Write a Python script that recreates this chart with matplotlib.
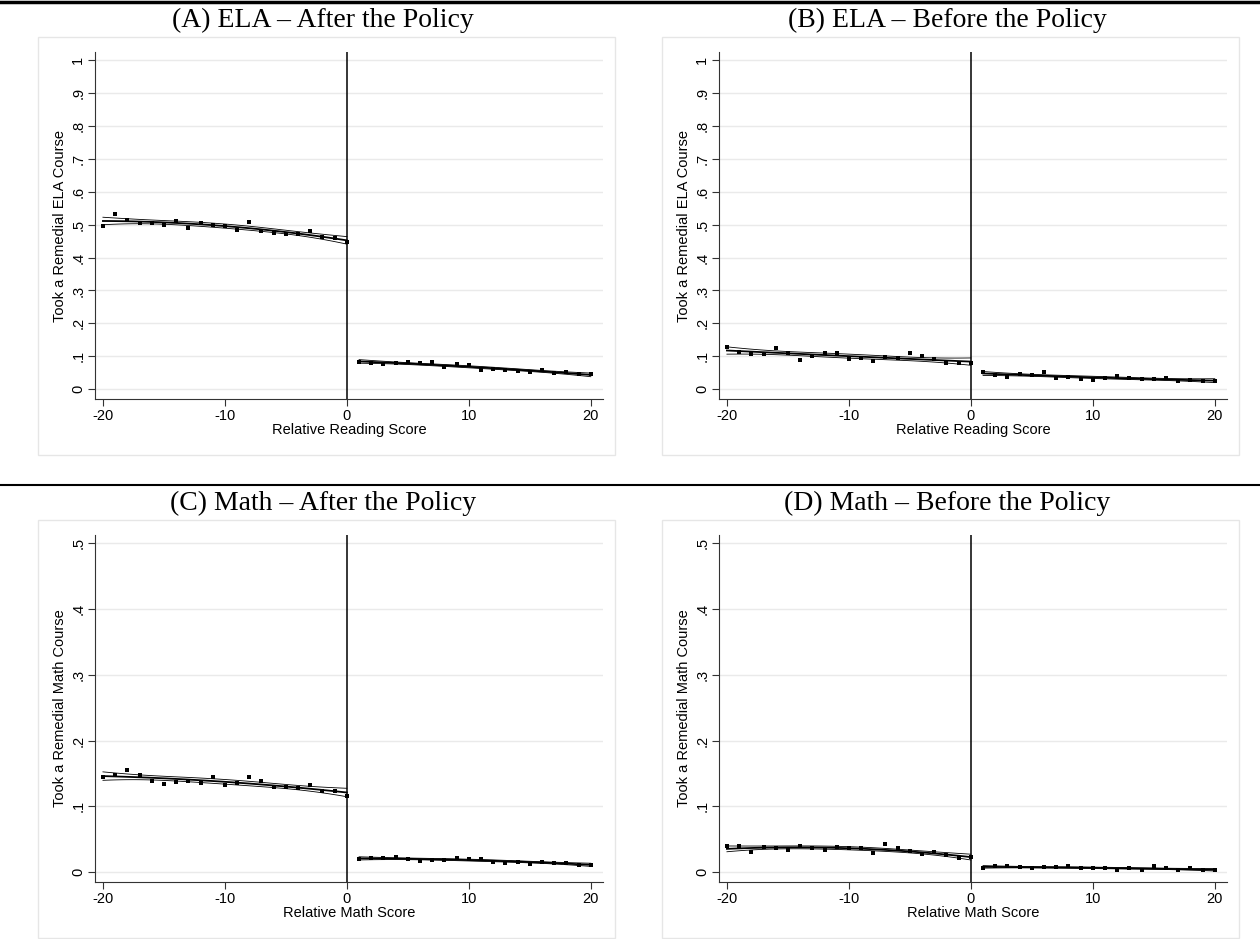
import numpy as np
import matplotlib.pyplot as plt
from matplotlib.patches import Rectangle
from matplotlib.lines import Line2D

plt.rcParams['font.family'] = ['Liberation Sans', 'DejaVu Sans']

# bins of the relative score, left and right of the cutoff
x_left = np.arange(-20, 1)
x_right = np.arange(1, 21)

# (A) ELA - after the policy
ela_after_left = [0.497, 0.533, 0.515, 0.505, 0.505, 0.499, 0.512, 0.490, 0.505, 0.500, 0.497,
                  0.485, 0.508, 0.481, 0.476, 0.473, 0.473, 0.480, 0.462, 0.460, 0.446]
ela_after_right = [0.084, 0.079, 0.077, 0.080, 0.083, 0.079, 0.081, 0.066, 0.075, 0.074,
                   0.057, 0.062, 0.059, 0.056, 0.052, 0.058, 0.049, 0.052, 0.046, 0.045]

# (B) ELA - before the policy
ela_before_left = [0.128, 0.114, 0.106, 0.106, 0.124, 0.111, 0.089, 0.101, 0.111, 0.110, 0.093,
                   0.096, 0.085, 0.099, 0.094, 0.109, 0.101, 0.093, 0.078, 0.080, 0.080]
ela_before_right = [0.053, 0.043, 0.038, 0.045, 0.042, 0.052, 0.035, 0.038, 0.031, 0.029,
                    0.034, 0.040, 0.035, 0.032, 0.030, 0.035, 0.024, 0.029, 0.026, 0.024]

# (C) Math - after the policy
math_after_left = [0.144, 0.147, 0.155, 0.148, 0.139, 0.134, 0.137, 0.138, 0.135, 0.144, 0.132,
                   0.136, 0.145, 0.138, 0.129, 0.129, 0.128, 0.133, 0.124, 0.124, 0.115]
math_after_right = [0.0196, 0.021, 0.021, 0.0237, 0.0196, 0.017, 0.0186, 0.0186, 0.022, 0.0196,
                    0.0206, 0.0156, 0.0136, 0.0156, 0.0126, 0.016, 0.0146, 0.0146, 0.0106, 0.0116]

# (D) Math - before the policy
math_before_left = [0.039, 0.039, 0.031, 0.038, 0.037, 0.033, 0.040, 0.037, 0.033, 0.038, 0.037,
                    0.037, 0.029, 0.043, 0.036, 0.032, 0.027, 0.030, 0.026, 0.022, 0.023]
math_before_right = [0.0065, 0.0096, 0.0086, 0.0071, 0.006, 0.0071, 0.0076, 0.010, 0.0065, 0.0056,
                     0.006, 0.0035, 0.006, 0.004, 0.0086, 0.0056, 0.0035, 0.0056, 0.0026, 0.004]

titles = ['(A) ELA \u2013 After the Policy', '(B) ELA \u2013 Before the Policy',
          '(C) Math \u2013 After the Policy', '(D) Math \u2013 Before the Policy']
ylabels = ['Took a Remedial ELA Course', 'Took a Remedial ELA Course',
           'Took a Remedial Math Course', 'Took a Remedial Math Course']
xlabels = ['Relative Reading Score', 'Relative Reading Score',
           'Relative Math Score', 'Relative Math Score']
ela_yticks = [0, .1, .2, .3, .4, .5, .6, .7, .8, .9, 1]
math_yticks = [0, .1, .2, .3, .4, .5]
xticks = [-20, -10, 0, 10, 20]


def tick_label(v):
    if v == 0:
        return '0'
    if v == 1:
        return '1'
    return ('%.1f' % v).lstrip('0')


def qfit_ci(x, y, grid):
    # quadratic fit with 95% confidence band of the prediction
    coef, cov = np.polyfit(x, y, 2, cov=True)
    X = np.vstack([grid ** 2, grid, np.ones_like(grid)]).T
    fit = X @ coef
    se = np.sqrt(np.einsum('ij,jk,ik->i', X, cov, X))
    return fit, fit - 1.96 * se, fit + 1.96 * se


W, H = 1260, 939
fig = plt.figure(figsize=(W / 100, H / 100), dpi=100)

panels = [
    (ela_after_left, ela_after_right, ela_yticks, 0, 0),
    (ela_before_left, ela_before_right, ela_yticks, 1, 0),
    (math_after_left, math_after_right, math_yticks, 0, 1),
    (math_before_left, math_before_right, math_yticks, 1, 1),
]

for i, (yl, yr, yticks, col, row) in enumerate(panels):
    dx = col * 624
    dy = row * 483
    # panel frame (graph region)
    fig.patches.append(Rectangle(((38 + dx) / W, 1 - (455 + dy) / H), 577 / W, 418 / H,
                                 transform=fig.transFigure, fill=False,
                                 edgecolor='#e6e6e6', linewidth=1))
    ax = fig.add_axes([(95 + dx) / W, 1 - (399 + dy) / H, 508 / W, 347 / H])
    ymax = yticks[-1]
    ax.set_xlim(-20.65, 21)
    ax.set_ylim(-0.03 * ymax, 1.025 * ymax)
    for t in yticks:
        ax.axhline(t, color='#eaeaea', linewidth=1, zorder=0)
    ax.axvline(0, color='black', linewidth=1.1, zorder=2)

    for xs, ys in ((x_left, yl), (x_right, yr)):
        grid = np.linspace(xs[0], xs[-1], 100)
        fit, lo, hi = qfit_ci(xs, np.array(ys), grid)
        ax.plot(grid, lo, color='black', linewidth=0.6, zorder=3)
        ax.plot(grid, hi, color='black', linewidth=0.6, zorder=3)
        ax.plot(grid, fit, color='black', linewidth=1.3, zorder=4)
        ax.plot(xs, ys, linestyle='none', marker='s', markersize=3,
                markeredgewidth=0, color='black', zorder=5)

    ax.set_xticks(xticks)
    ax.set_xticklabels([str(t) for t in xticks], fontsize=10.5)
    ax.set_yticks(yticks)
    ax.set_yticklabels([tick_label(t) for t in yticks], rotation=90,
                       va='center', fontsize=10.5)
    ax.tick_params(direction='out', length=5, width=0.8, color='#333333', pad=2)
    for s in ('top', 'right'):
        ax.spines[s].set_visible(False)
    for s in ('left', 'bottom'):
        ax.spines[s].set_color('#333333')
        ax.spines[s].set_linewidth(0.8)
    ax.set_xlabel(xlabels[i], fontsize=10.5, labelpad=0)
    ax.set_ylabel(ylabels[i], fontsize=10.5, labelpad=3)
    ax.set_facecolor('white')

    fig.text((323 + dx) / W, 1 - (20 + dy) / H, titles[i], ha='center', va='center',
             fontsize=20, family=['Liberation Serif', 'DejaVu Serif'])

# rules across the page
fig.add_artist(Line2D([0, 1], [1 - 1.5 / H, 1 - 1.5 / H], transform=fig.transFigure,
                      color='black', linewidth=2.5))
fig.add_artist(Line2D([0, 1], [1 - 485 / H, 1 - 485 / H], transform=fig.transFigure,
                      color='black', linewidth=1.5))

fig.savefig('out.png', dpi=100)
